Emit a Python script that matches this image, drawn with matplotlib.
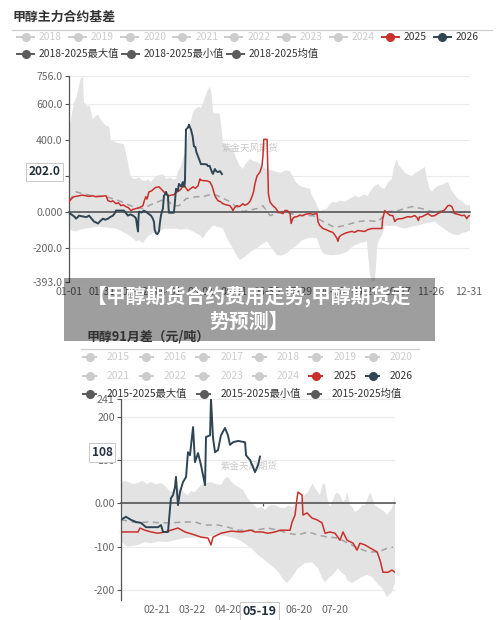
import numpy as np
import matplotlib
matplotlib.use('Agg')
import matplotlib.pyplot as plt
from matplotlib.patches import Rectangle

plt.rcParams['font.family'] = ['Noto Sans CJK SC', 'DejaVu Sans']

# ================= TOP CHART DATA (x = day of year) =================
top_title = '甲醇主力合约基差'
top_years = ['2018', '2019', '2020', '2021', '2022', '2023', '2024', '2025', '2026']
top_stats = ['2018-2025最大值', '2018-2025最小值', '2018-2025均值']
top_xtick_days = [0, 30, 60, 90, 120, 150, 180, 209, 239, 269, 299, 329, 364]
top_xtick_labels = ['01-01', '01-31', '03-02', '04-01', '05-01', '05-31', '06-30',
                    '07-29', '08-28', '09-27', '10-27', '11-26', '12-31']
top_yticks = [756, 600, 400, 200, 0, -200, -393]
top_ytick_labels = ['756.0', '600.0', '400.0', '', '0.000', '-200.0', '-393.0']
top_latest = 202.0

top_max_x = [0, 2, 4.5, 7, 9, 10.9, 12.7, 13.6, 15, 17.3, 18.2, 20, 21.8, 24, 26.4, 28, 30.9, 33,
             36.4, 37.5, 38.2, 40, 42.8, 46, 50, 52, 53.7, 55, 56.4, 58, 61, 64, 67, 70, 72, 74.6,
             78, 81, 85.5, 87, 88.3, 92, 95, 97.4, 99, 101.9, 104, 106.5, 109, 112.8, 115, 118.3,
             120, 122, 124, 126.5, 128.3, 129.5, 130.1, 131, 133, 135, 137.4, 139, 140.1, 143, 146,
             149.2, 152, 155, 158.3, 161, 164.7, 168, 172, 176, 180.2, 184, 189.3, 193, 197, 201.1,
             204, 207, 210.2, 214, 219.3, 221, 223.8, 226, 228.4, 231, 234.8, 237, 240.2, 243,
             246.6, 251.1, 255, 260.2, 264, 268, 272.1, 275, 278, 281.2, 284, 287.5, 290, 293.9,
             296, 298.5, 300, 303, 306, 309, 312.1, 315, 318, 321.2, 323.9, 326, 328, 330.3, 333,
             335.8, 340, 344.9, 348, 351, 354, 357, 360, 363.1, 365]
top_max_y = [457, 520, 606, 640, 700, 743, 749, 606, 600, 584, 595, 560, 512, 530, 540, 520, 495, 480,
             473, 430, 391, 395, 385, 380, 374, 320, 275, 230, 193, 185, 182, 190, 172, 171, 180, 165,
             190, 200, 209, 195, 182, 190, 178, 182, 220, 253, 300, 347, 450, 551, 570, 584,
             575, 600, 640, 677, 694, 660, 639, 551, 545, 548, 540, 450, 385, 370, 355,
             347, 300, 260, 237, 270, 292, 280, 275, 250, 237, 230, 220, 215, 230, 226,
             190, 160, 143, 135, 127, 90, 61, 30, 0, 10, 17, 40, 55, 50,
             61, 55, 70, 88, 80, 95, 88, 120, 140, 154, 135, 127, 160, 182,
             250, 292, 260, 237, 215, 205, 198, 215, 225, 237, 248, 180, 130, 110, 130,
             143, 150, 165, 120, 95, 72, 60, 45, 33, 40]

top_min_x = [0, 3, 6.4, 10, 15.5, 20, 27.3, 33, 38, 42.8, 48, 53, 58.2, 61, 64, 67.3, 70, 72.8, 77,
             81.9, 87, 92, 97.4, 102, 107, 112.8, 119.2, 121.9, 125, 128, 131, 135, 140.1, 144,
             149.2, 152, 155.6, 159, 162, 166, 171.1, 175, 180.2, 184, 189.3, 193, 198.4, 203,
             207.5, 212, 216.6, 221, 225.7, 228, 231.1, 235, 240.2, 244, 248, 253.9, 257, 260.2,
             265, 271.2, 272.5, 273.9, 275.7, 278.4, 279.5, 280.3, 282, 284.8, 287.5, 292, 296.6,
             301, 305.7, 311, 317.6, 325, 333, 338, 344.9, 349, 354, 358, 363.1, 365]
top_min_y = [-94, -105, -110, -100, -94, -90, -83, -88, -92, -94, -110, -125, -149, -165, -160, -176,
             -150, -132, -120, -110, -95, -95, -95, -100, -95, -110, -132, -149, -120, -95, -77, -85,
             -94, -150, -204, -240, -270, -255, -242, -220, -204, -185, -165, -200, -242, -245, -231,
             -205, -187, -160, -149, -145, -149, -190, -231, -240, -242, -240, -235, -220, -200,
             -187, -175, -165, -260, -352, -385, -385, -300, -204, -160, -132, -77, -80, -77, -88,
             -94, -85, -77, -65, -55, -80, -110, -125, -132, -120, -110, -105]

top_mean_x = [0, 6.4, 12.7, 21.8, 33.7, 45.5, 58.2, 67.3, 76.4, 88.3, 94.6, 100.1, 106.5, 115.6,
              121.9, 131, 137.4, 146.5, 158.3, 171.1, 176.5, 182.9, 194.7, 210.2, 222, 231.1,
              240.2, 242, 251.1, 263, 272.1, 281.2, 290.3, 299.4, 312.1, 321.2, 330.3, 342.1,
              351.2, 360.3, 364.9]
top_mean_y = [61, 110, 99, 88, 83, 61, 28, 17, 44, 72, 33, 33, 72, 83, 83, 99, 83, 55, 0, 17, 33,
              -22, 0, -22, -22, -55, -83, -88, -77, -55, -50, -55, 0, 6, 28, 17, 0, 6, -11, 0, 0]

top_2025_x = [0, 2, 4.5, 9.1, 12, 15.5, 18, 21.8, 24.6, 28, 33.7, 35.5, 38.2, 40, 42.8, 45, 47.3, 49,
              51.9, 54, 56.4, 58, 61, 64, 67.3, 68.5, 70, 71, 72.8, 75, 77.3, 79, 81.9, 84, 86.4, 88,
              91, 93, 95.5, 97, 100.1, 102, 104.6, 106, 108.3, 110, 112.8, 115, 117.4, 119.2,
              120.1, 123, 125.6, 128.3, 130, 131, 132.8, 134, 135.6, 138, 140.1, 143, 146.5, 148,
              149.2, 151, 152.9, 155, 158.3, 160, 162.9, 165, 166.5, 168, 169.2, 171.1, 173.8,
              175.6, 176.5, 177.3, 180.3, 181.5, 182.9, 184, 185.6, 188, 190.2, 192, 194.7, 196.5,
              198.4, 200, 201.1, 202.2, 203.5, 205, 207.5, 210, 212.9, 215, 219.3, 222, 225.7,
              226.6, 228, 231.1, 234, 237.5, 240, 242, 243.9, 244.8, 246, 248, 251.1, 254, 257.5,
              260, 263, 266, 269.3, 272, 275.7, 280, 284.8, 285.5, 287.5, 290.3, 292, 294.8, 296.6,
              298, 300, 303, 305, 308.5, 311, 314.8, 317, 318, 319, 321.2, 324, 326.7, 330, 333,
              336, 339.4, 342, 344.9, 346.5, 348.5, 350, 351.2, 354, 357.6, 360, 362.1, 363.5, 364.9]
top_2025_y = [55, 70, 83, 88, 92, 88, 85, 88, 83, 85, 88, 61, 55, 60, 44, 50, 33, 38,
              28, 22, 6, 12, 17, 22, 33, 60, 83, 70, 110, 115, 127, 135, 138, 125, 110, 100,
              88, 92, 94, 105, 116, 125, 154, 135, 116, 125, 138, 130, 143, 182,
              175, 172, 171, 165, 145, 127, 88, 75, 61, 55, 44, 38, 33, 20,
              6, 25, 33, 28, 44, 35, 44, 60, 83, 110, 154, 198, 220,
              253, 308, 402, 402, 100, 55, 45, 33, 20, 0, -5, -11, 6,
              6, 0, -5, -66, -40, -30, -28, -20, -22, -15, -11, -15, -11,
              -55, -75, -94, -100, -110, -115, -130, -149, -165, -140, -130, -121, -115, -110,
              -115, -105, -108, -110, -100, -94, -94, -94, -40, 6, -11, -20, -22, -55,
              -45, -40, -39, -35, -28, -30, -22, -35, -50, -30, -28, -20, -11, -25, -22,
              -10, 0, 10, 33, 35, 28, 5, -11, -15, -22, -20, -39, -25, -22]

top_2026_x = [0, 2, 3.6, 5, 6.4, 8, 9.1, 11, 13.6, 16, 18.2, 20, 22.7, 24.5, 26.4, 28, 30.9, 33, 35.5,
              37.5, 40, 41.5, 42.8, 46, 50, 52, 53.7, 56, 58.2, 60, 61, 62, 62.8, 63.2, 63.7, 66, 68,
              70, 72, 74.6, 76, 77.3, 78, 79.2, 80.5, 81.9, 82.8, 83.7, 84.5, 85.5, 86.4, 87.3, 88.3,
              89.2, 90.1, 90.6, 91, 93, 95.5, 96.5, 97.4, 99, 100.1, 102, 103.7, 104.6, 105.5, 106.5,
              108.3, 109.2, 110, 111, 112.5, 113.7, 115, 116, 117.4, 118.5, 120.1, 122, 123.8, 125.5,
              126.5, 128, 130.1, 131, 132.8, 134, 135.6, 137.5, 139.2]
top_2026_y = [-6, -15, -22, -28, -39, -30, -22, -25, -28, -30, -22, -35, -55, -60, -66, -55, -39, -45, -39,
              -30, -22, -10, 6, 6, 6, -10, -22, -15, -22, -30, -39, -80, -110, -40, 0, -5, 5,
              0, -10, -22, -35, -55, -100, -121, -125, -110, -60, -22, 0, 17, 88, 95, 110,
              95, 88, 20, -6, -6, -6, 60, 127, 115, 154, 140, 165, 138, 160, 457,
              468, 484, 470, 457, 420, 363, 360, 330, 308, 290, 264, 264, 264, 262,
              253, 255, 220, 210, 237, 225, 220, 225, 209]

# ================= BOTTOM CHART DATA (x = trading-day index) =================
bot_title = '甲醇91月差（元/吨）'
bot_years = ['2015', '2016', '2017', '2018', '2019', '2020', '2021', '2022', '2023', '2024', '2025', '2026']
bot_stats = ['2015-2025最大值', '2015-2025最小值', '2015-2025均值']
bot_xtick_pos = [30, 60, 90, 150, 180]
bot_xtick_labels = ['02-21', '03-22', '04-20', '06-20', '07-20']
bot_zero_ticks = [30, 60, 90, 120, 150, 180]
bot_yticks = [241, 200, 100, 0, -100, -200]
bot_ytick_labels = ['241', '200', '100', '0.00', '-100', '-200']
bot_latest = 108
bot_latest_pos = 117
bot_latest_date = '05-19'

bot_max_x = [0, 3, 5.9, 10, 14.3, 18, 22, 25.3, 29, 33.7, 37, 42.1, 46, 50.5, 53, 56.4, 59, 62.3, 65,
             67.4, 71, 75.8, 80, 84.2, 87.6, 90.1, 93, 96, 99, 102.8, 106, 109.5, 112, 115.4, 118,
             121.3, 125, 129.7, 134, 138.2, 141, 144.1, 148, 152.5, 155, 157.5, 160, 161.5, 163.4,
             165, 167.6, 170.2, 171.9, 174, 176.1, 178, 180.3, 182, 184.5, 187, 189, 190.4, 192.9,
             195, 197.1, 200, 203, 205.6, 207, 209.8, 212, 214, 217, 219.9, 222, 224.1, 226, 228.3, 230.8]
bot_max_y = [47, 52, 49, 45, 47, 52, 45, 49, 44, 47, 40, 26, 33, 35, 25, 19, 28, 26, 35,
             42, 46, 49, 45, 42, 58, 61, 50, 42, 38, 31, 15, 3, -5, -11, -8,
             -15, -5, -4, -10, -11, -5, -8, 0, 12, 20, 26, 40, 45, 35,
             30, 19, 47, 42, 10, -8, 5, 19, 25, 19, 3, 10, 26, -4,
             -10, -20, -15, -5, -4, 5, 26, 10, -4, -10, -15, -20, -27, -20, -11, 19]

bot_min_x = [0, 3, 5.9, 10, 14.3, 20, 25.3, 32, 39.6, 47, 53.9, 60, 67.4, 74, 81.7, 88, 96, 103,
             109.5, 115.4, 121.3, 125, 129.7, 133, 135.6, 139.8, 144.1, 149.1, 155, 160.9, 166,
             169, 171.9, 175, 177.8, 182.8, 186, 188.7, 191, 194.6, 198, 203, 207, 211.5, 216,
             219.9, 224.1, 228.3, 230.8]
bot_min_y = [-89, -95, -100, -98, -96, -90, -92, -88, -89, -84, -80, -79, -78, -76, -73, -76, -80, -90,
             -103, -119, -131, -140, -150, -160, -172, -184, -170, -150, -138, -136, -150,
             -170, -182, -172, -166, -150, -160, -166, -178, -184, -178, -170, -165, -170, -185,
             -196, -216, -205, -182]

bot_mean_x = [0, 14.3, 22.7, 33.7, 42.1, 53.9, 62.3, 70.8, 81.7, 90.1, 98.6, 109.5, 112.9, 123.8,
              132.3, 140.7, 149.1, 157.5, 166, 174.4, 182.8, 191.2, 199.7, 208.1, 216.5, 224.9, 229.1]
bot_mean_y = [-38, -45, -43, -45, -45, -43, -43, -50, -50, -55, -62, -62, -62, -57,
              -62, -69, -73, -66, -73, -78, -80, -92, -103, -112, -112, -103, -101]

bot_2025_x = [0, 8.4, 14.3, 16, 20.2, 25.3, 31.2, 37.1, 42.1, 48, 53.9, 62.3, 67.4, 73.3, 75.8, 77.5,
              84.2, 92.7, 101.1, 109.5, 112.9, 118.8, 123.8, 129.7, 134, 142.4, 144.1, 146.6, 148.3,
              149.1, 152.5, 153.3, 156.7, 160.9, 165.1, 169.3, 171.9, 176.1, 180.3, 184.5, 187,
              190.4, 195.5, 198.8, 201.3, 205.6, 209.8, 215.7, 218.2, 220.7, 224.9, 228.3, 230.8]
bot_2025_y = [-66, -66, -66, -57, -62, -66, -69, -66, -62, -57, -66, -73, -78, -80, -96, -78,
              -69, -64, -66, -62, -66, -66, -69, -66, -62, -62, -43, -27, 12,
              26, 19, -27, -22, -34, -38, -45, -69, -66, -69, -85, -66,
              -85, -92, -108, -92, -96, -103, -112, -131, -159, -159, -154, -159]

bot_2026_x = [0, 4.2, 8.4, 12.6, 16.8, 21.1, 25.3, 31.2, 33.7, 35.4, 39.6, 41.3, 42.1, 43.8, 45.5, 46.3,
              48, 49.7, 52.2, 54.8, 56.4, 58.1, 60.7, 62.3, 64.9, 67.4, 70.8, 71.6, 75, 75.8, 77.5,
              79.2, 81.7, 84.2, 87.6, 90.1, 91.8, 94.4, 98.6, 104.5, 105.3, 108.7, 112.9, 115.4, 117.1]
bot_2026_y = [-38, -31, -38, -43, -45, -55, -55, -55, -50, -66, -66, -11, 12, 19, 38, 61,
              -4, 26, 49, 61, 118, 111, 176, 95, 116, 88, 42, 153, 157, 241, 151,
              118, 123, 157, 174, 157, 135, 141, 144, 141, 111, 100, 72, 88, 108]

# ================= STYLE =================
RED = '#c8302c'
NAVY = '#2f4554'
BAND = '#e3e3e3'
MEAN = '#a3a3a3'
AXC = '#555555'
LBL = '#666666'
GRID = '#ebebeb'
INACT = '#cccccc'

fig = plt.figure(figsize=(5.0, 6.2), dpi=100)
W, H = 500.0, 620.0


def ax_rect(left, top, right, bottom):
    return [left / W, 1 - bottom / H, (right - left) / W, (bottom - top) / H]


def style_axes(ax, yticks, ylabels, ylim, xlim, zero_ticks, xt_pos, xt_labels, xpad):
    ax.set_xlim(*xlim)
    ax.set_ylim(*ylim)
    ax.set_yticks(yticks)
    ax.set_yticklabels(ylabels)
    ax.tick_params(axis='y', direction='out', length=3, width=0.8, color=AXC,
                   labelsize=7.6, labelcolor=LBL, pad=1.5)
    ax.yaxis.grid(True, color=GRID, lw=0.8)
    ax.set_axisbelow(True)
    for s in ['top', 'right']:
        ax.spines[s].set_visible(False)
    ax.spines['left'].set_color(AXC)
    ax.spines['left'].set_linewidth(0.9)
    ax.spines['bottom'].set_position(('data', 0))
    ax.spines['bottom'].set_color(AXC)
    ax.spines['bottom'].set_linewidth(1.2)
    ax.set_xticks(zero_ticks)
    ax.tick_params(axis='x', direction='out', length=2.5, width=0.9, color=AXC, labelbottom=False)
    sec = ax.secondary_xaxis('bottom')
    sec.set_xticks(xt_pos)
    sec.set_xticklabels(xt_labels)
    sec.tick_params(axis='x', length=0, labelsize=7.6, labelcolor=LBL, pad=xpad)
    sec.spines['bottom'].set_visible(False)
    ax.set_facecolor('none')


# ---------------- top chart ----------------
ax1 = fig.add_axes(ax_rect(69, 75.7, 470, 282.3))
ax1.fill(np.concatenate([top_max_x, top_min_x[::-1]]),
         np.concatenate([top_max_y, top_min_y[::-1]]), color=BAND, lw=0, zorder=1)
ax1.plot(top_mean_x, top_mean_y, color=MEAN, lw=1.1, dashes=(4, 3), zorder=2)
ax1.plot(top_2025_x, top_2025_y, color=RED, lw=1.1, zorder=3)
ax1.plot(top_2026_x, top_2026_y, color=NAVY, lw=1.4, zorder=4)
style_axes(ax1, top_yticks, top_ytick_labels, (-393, 756), (0, 365), top_xtick_days,
           top_xtick_days, top_xtick_labels, 3.5)
ax1.text(0.451, 0.65, '紫金天风期货', transform=ax1.transAxes, fontsize=6.8,
         color='#c9c9c9', ha='center', va='center', zorder=1.5)
ax1.annotate(f'{top_latest:.1f}', xy=(0, top_latest), xycoords=('axes fraction', 'data'),
             xytext=(-6, 2.5), textcoords='offset points', ha='right', va='center',
             fontsize=8.6, fontweight='bold', color='#22313d', annotation_clip=False,
             bbox=dict(boxstyle='square,pad=0.22', fc='white', ec='#c8c8c8', lw=0.7), zorder=6)

# ---------------- bottom chart ----------------
ax2 = fig.add_axes(ax_rect(121, 398.9, 395, 600))
ax2.fill(np.concatenate([bot_max_x, bot_min_x[::-1]]),
         np.concatenate([bot_max_y, bot_min_y[::-1]]), color=BAND, lw=0, zorder=1)
ax2.plot(bot_mean_x, bot_mean_y, color=MEAN, lw=1.1, dashes=(4, 3), zorder=2)
ax2.plot(bot_2025_x, bot_2025_y, color=RED, lw=1.1, zorder=3)
ax2.plot(bot_2026_x, bot_2026_y, color=NAVY, lw=1.4, zorder=4)
style_axes(ax2, bot_yticks, bot_ytick_labels, (-223, 241), (0, 230.8), bot_zero_ticks,
           bot_xtick_pos, bot_xtick_labels, 3.3)
ax2.axhline(-223, color=GRID, lw=0.8, zorder=0)
ax2.text(0.467, 0.666, '紫金天风期货', transform=ax2.transAxes, fontsize=6.8,
         color='#c9c9c9', ha='center', va='center', zorder=1.5)
ax2.annotate(str(bot_latest), xy=(0, bot_latest), xycoords=('axes fraction', 'data'),
             xytext=(-6, 3), textcoords='offset points', ha='right', va='center',
             fontsize=8.6, fontweight='bold', color='#22313d', annotation_clip=False,
             bbox=dict(boxstyle='square,pad=0.22', fc='white', ec='#c8c8c8', lw=0.7), zorder=6)
ax2.annotate(bot_latest_date, xy=(bot_latest_pos, 0), xycoords=('data', 'axes fraction'),
             xytext=(0, -8), textcoords='offset points', ha='center', va='center',
             fontsize=9, fontweight='bold', color='#22313d', annotation_clip=False,
             bbox=dict(boxstyle='square,pad=0.2', fc='white', ec='#c8c8c8', lw=0.7), zorder=6)

# ---------------- overlay (titles, legends, banner) ----------------
ov = fig.add_axes([0, 0, 1, 1], zorder=10)
ov.set_xlim(0, W)
ov.set_ylim(H, 0)
ov.axis('off')
ov.set_facecolor('none')


def legend_item(x, y, color, text, tcolor, w=19, gap=4, ms=5.5):
    ov.plot([x, x + w], [y, y], color=color, lw=1.4, solid_capstyle='butt')
    ov.plot([x + w / 2], [y], 'o', color=color, ms=ms, mec=color)
    ov.text(x + w + gap, y, text, color=tcolor, fontsize=7.4, ha='left', va='center')


def year_color(yr):
    if yr == '2025':
        return RED, '#333333'
    if yr == '2026':
        return NAVY, '#333333'
    return INACT, INACT


# top title & legend
ov.text(12, 17, top_title, fontsize=9.3, fontweight='bold', color='#333333', ha='left', va='center')
ov.plot([12, 492], [30, 30], color='#cfcfcf', lw=0.9)
for k, yr in enumerate(top_years):
    c, tc = year_color(yr)
    legend_item(16 + 52.1 * k, 37.3, c, yr, tc)
for x0, lab in zip([16, 121, 226], top_stats):
    legend_item(x0, 54.3, '#5b5b5b', lab, '#333333')

# bottom title & legend
ov.text(87, 336.5, bot_title, fontsize=9.3, fontweight='bold', color='#333333', ha='left', va='center')
ov.plot([81, 419], [349, 349], color='#cfcfcf', lw=0.9)
for k, yr in enumerate(bot_years):
    c, tc = year_color(yr)
    row, col = divmod(k, 6)
    legend_item(82 + 56.6 * col, 357.3 + 18.4 * row, c, yr, tc, w=15, gap=10)
for x0, lab in zip([82, 196, 307], bot_stats):
    legend_item(x0, 394, '#5b5b5b', lab, '#333333', w=15, gap=10)

# banner
ov.add_patch(Rectangle((64, 278), 371, 63, facecolor='black', alpha=0.38, lw=0))
ov.text(249, 296, '【甲醇期货合约费用走势,甲醇期货走', fontsize=14.3, fontweight='bold',
        color='white', ha='center', va='center')
ov.text(249, 321, '势预测】', fontsize=14.3, fontweight='bold', color='white', ha='center', va='center')

fig.savefig('out.png', dpi=100, facecolor='white')
